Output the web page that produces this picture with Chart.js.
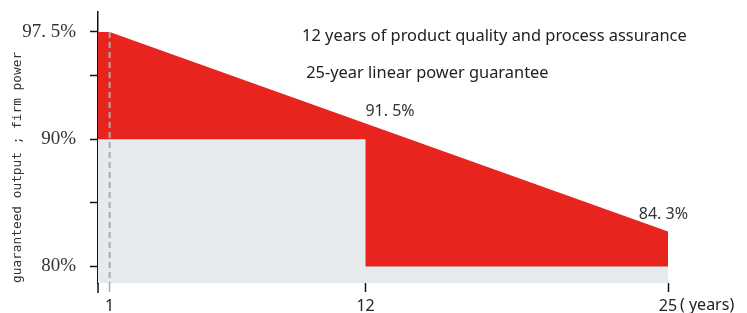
<!DOCTYPE html>
<html>
<head>
<meta charset="utf-8">
<script src="https://cdn.jsdelivr.net/npm/chart.js@4/dist/chart.umd.min.js"></script>
<style>
  body { margin: 0; background: #fff; }
  #wrap { width: 747px; height: 313px; position: relative; }
</style>
</head>
<body>
<div id="wrap"><canvas id="warrantyChart"></canvas></div>
<script>
// Eje X: años
const xTickYears = [1, 12, 25];
const xTickLabels = ['1', '12', '25'];

// Eje Y: posiciones de las marcas y sus etiquetas
const yTickValues = [80, 85, 90, 95, 98.43];
const yTickLabels = ['80%', '', '90%', '', '97. 5%'];

// Garantía lineal de potencia (borde superior rojo)
const linearYears = [0.5, 1, 25];
const linearPower = [98.43, 98.43, 82.75];

// Garantía de producto (zona gris)
const productYears = [0.5, 12, 12, 25];
const productPower = [90, 90, 80, 80];

// Línea discontinua del año 1
const firstYear = [1, 1];
const firstYearPower = [98.43, 78.7];

// Textos
const notes = [
    '12 years of product quality and process assurance',
    '25-year linear power guarantee',
    '91. 5%',
    '84. 3%',
    '( years)'
];

function toPoints(xs, ys) {
    return xs.map((x, i) => ({ x: x, y: ys[i] }));
}

// Dibuja los textos y la prolongación de los ejes
const notesPlugin = {
    id: 'notes',
    afterDraw(chart) {
        const ctx = chart.ctx;
        const x = chart.scales.x;
        const y = chart.scales.y;
        const area = chart.chartArea;
        ctx.save();
        // prolongación del eje Y bajo el área
        ctx.strokeStyle = '#111';
        ctx.lineWidth = 1.5;
        ctx.beginPath();
        ctx.moveTo(area.left, area.bottom);
        ctx.lineTo(area.left, area.bottom + 10);
        ctx.stroke();

        ctx.textBaseline = 'middle';
        ctx.fillStyle = '#222';
        ctx.font = '16.4px "Noto Sans", "Open Sans", sans-serif';
        ctx.textAlign = 'left';
        ctx.fillText(notes[0], x.getPixelForValue(9.27), y.getPixelForValue(98.1));
        ctx.fillText(notes[1], x.getPixelForValue(9.45), y.getPixelForValue(95.2));

        ctx.fillStyle = '#333';
        ctx.font = '16px "Noto Sans", "Open Sans", sans-serif';
        ctx.textAlign = 'center';
        ctx.fillText(notes[2], x.getPixelForValue(13.05), y.getPixelForValue(92.2));
        ctx.fillText(notes[3], x.getPixelForValue(24.8), y.getPixelForValue(84.1));

        ctx.fillStyle = '#222';
        ctx.font = '16px "Noto Sans", "Open Sans", sans-serif';
        ctx.textAlign = 'left';
        ctx.textBaseline = 'middle';
        ctx.fillText(notes[4], x.getPixelForValue(25) + 12, area.bottom + 22);
        ctx.restore();
    }
};

new Chart(document.getElementById('warrantyChart'), {
    type: 'scatter',
    data: {
        datasets: [
            {
                data: toPoints(firstYear, firstYearPower),
                showLine: true,
                borderColor: '#ababab',
                borderWidth: 2,
                borderDash: [6, 4],
                pointRadius: 0,
                fill: false
            },
            {
                data: toPoints(productYears, productPower),
                showLine: true,
                borderWidth: 0,
                borderColor: 'rgba(0,0,0,0)',
                backgroundColor: '#e5eaed',
                pointRadius: 0,
                fill: 'start'
            },
            {
                data: toPoints(linearYears, linearPower),
                showLine: true,
                borderWidth: 0,
                borderColor: 'rgba(0,0,0,0)',
                backgroundColor: '#e7241e',
                pointRadius: 0,
                fill: 'start'
            }
        ]
    },
    options: {
        responsive: true,
        maintainAspectRatio: false,
        animation: false,
        layout: { padding: { top: 12, right: 79, left: 0, bottom: 0 } },
        plugins: {
            legend: { display: false },
            tooltip: { enabled: false }
        },
        scales: {
            x: {
                type: 'linear',
                min: 0.5,
                max: 25,
                border: { display: false },
                grid: {
                    drawOnChartArea: false,
                    drawTicks: true,
                    tickLength: 9,
                    tickWidth: 1.5,
                    tickColor: c => c.index === 0 ? '#ababab' : '#111'
                },
                afterBuildTicks: s => { s.ticks = xTickYears.map(v => ({ value: v })); },
                afterFit: s => { s.height = 30; s.paddingLeft = 0; s.paddingRight = 0; },
                ticks: {
                    padding: 5,
                    color: '#222',
                    font: { family: '"Noto Sans", "Open Sans", sans-serif', size: 16 },
                    callback: (v, i) => xTickLabels[i]
                }
            },
            y: {
                min: 78.7,
                max: 100,
                border: { display: true, color: '#111', width: 1.5 },
                grid: {
                    drawOnChartArea: false,
                    tickLength: 8,
                    tickWidth: 1.5,
                    tickColor: '#111'
                },
                afterBuildTicks: s => { s.ticks = yTickValues.map(v => ({ value: v })); },
                afterFit: s => { s.width = 98; s.paddingTop = 0; s.paddingBottom = 0; },
                title: {
                    display: true,
                    text: 'guaranteed output ; firm power',
                    align: 'start',
                    color: '#333',
                    padding: { top: 10, bottom: 0 },
                    font: { family: '"DejaVu Sans Mono", monospace', size: 12.8 }
                },
                ticks: {
                    padding: 14,
                    color: '#333',
                    font: { family: '"Liberation Serif", serif', size: 19 },
                    callback: (v, i) => yTickLabels[i]
                }
            }
        }
    },
    plugins: [notesPlugin]
});
</script>
</body>
</html>
